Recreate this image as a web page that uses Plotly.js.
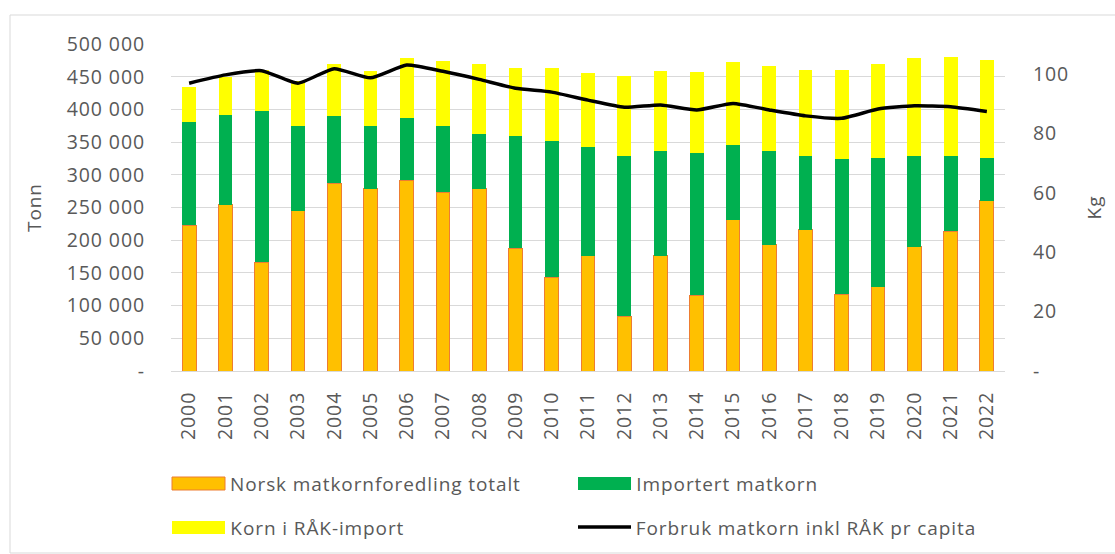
<!DOCTYPE html>
<html>
<head>
<meta charset="utf-8">
<script src="https://cdn.plot.ly/plotly-3.0.1.min.js"></script>
<style>
  html, body { margin: 0; padding: 0; background: #ffffff; }
  #chart { width: 1115px; height: 554px; }
  #chart text { letter-spacing: 0.9px; }
</style>
</head>
<body>
<div id="chart"></div>
<script>
// ---- Data ----
const years = ["2000","2001","2002","2003","2004","2005","2006","2007","2008","2009","2010","2011",
               "2012","2013","2014","2015","2016","2017","2018","2019","2020","2021","2022"];
// Tonn
const norskMatkorn = [223000, 254000, 166000, 245000, 287000, 279000, 292000, 273000, 279000, 188000, 143000, 176000,
                      84000, 176000, 116000, 231000, 193000, 216000, 117000, 129000, 190000, 214000, 260000];
const importertMatkorn = [158000, 137000, 232000, 129000, 103000, 95000, 95000, 102000, 84000, 172000, 209000, 166000,
                          245000, 160000, 217000, 114000, 144000, 112000, 207000, 196000, 138000, 114000, 65000];
const kornRakImport = [54000, 59000, 62000, 70000, 79000, 84000, 91000, 99000, 106000, 104000, 112000, 114000,
                       122000, 123000, 124000, 128000, 130000, 132000, 136000, 145000, 151000, 152000, 151000];
// Kg per capita
const forbrukKg = [96.9, 99.7, 101.1, 96.9, 101.8, 98.7, 103.0, 100.9, 98.2, 95.2, 93.9, 91.2,
                   88.8, 89.6, 87.9, 90.1, 87.9, 85.9, 85.1, 88.2, 89.3, 89.0, 87.4];

const leftTickVals = [0, 50000, 100000, 150000, 200000, 250000, 300000, 350000, 400000, 450000, 500000];
const leftTickText = ["-", "50 000", "100 000", "150 000", "200 000", "250 000", "300 000", "350 000", "400 000", "450 000", "500 000"];
const rightTickVals = [0, 20, 40, 60, 80, 100];
const rightTickText = ["-", "20", "40", "60", "80", "100"];

const seriesNames = ["Norsk matkornforedling totalt", "Importert matkorn", "Korn i RÅK-import", "Forbruk matkorn inkl RÅK pr capita"];

// ---- Styling ----
const FONT = "'Open Sans', 'Noto Sans', sans-serif";
const TXT = "#595959";
const GRID = "#D9D9D9";
const LS = 0.9; // letter-spacing set in CSS
const cOrange = "#FFC000", cOrangeLine = "#ED7D31", cGreen = "#00B050", cYellow = "#FFFF00";

// plot area in pixels
const W = 1115, H = 554;
const PL = 171, PR = 1005, PT = 44, PB = 371;
const px = x => (x - PL) / (PR - PL);
const py = y => (PB - y) / (PB - PT);

const traces = [
  { type: "bar", name: seriesNames[0], x: years, y: norskMatkorn,
    marker: { color: cOrange, line: { color: cOrangeLine, width: 1 } }, yaxis: "y", showlegend: false },
  { type: "bar", name: seriesNames[1], x: years, y: importertMatkorn,
    marker: { color: cGreen, line: { width: 0 } }, yaxis: "y", showlegend: false },
  { type: "bar", name: seriesNames[2], x: years, y: kornRakImport,
    marker: { color: cYellow, line: { width: 0 } }, yaxis: "y", showlegend: false },
  { type: "scatter", mode: "lines", name: seriesNames[3], x: years, y: forbrukKg,
    line: { color: "#000000", width: 3.5, shape: "spline", smoothing: 0.5 }, yaxis: "y2", showlegend: false }
];

// manual legend (two rows x two columns, as in the reference)
const shapes = [
  { type: "rect", xref: "paper", yref: "paper", x0: px(10), x1: px(1125), y0: py(553), y1: py(15),
    line: { color: GRID, width: 1 }, fillcolor: "rgba(0,0,0,0)", layer: "below" },
  { type: "rect", xref: "paper", yref: "paper", x0: px(172), x1: px(225), y0: py(490), y1: py(477),
    fillcolor: cOrange, line: { color: cOrangeLine, width: 1 } },
  { type: "rect", xref: "paper", yref: "paper", x0: px(578), x1: px(631), y0: py(490), y1: py(477),
    fillcolor: cGreen, line: { width: 0 } },
  { type: "rect", xref: "paper", yref: "paper", x0: px(172), x1: px(225), y0: py(534), y1: py(521),
    fillcolor: cYellow, line: { width: 0 } },
  { type: "line", xref: "paper", yref: "paper", x0: px(578), x1: px(631), y0: py(527), y1: py(527),
    line: { color: "#000000", width: 3.5 } }
];
const legFont = { family: FONT, size: 19, color: TXT };
// annotation text is centred in a box measured without letter-spacing: compensate half the extra width
const legX = (x, s) => px(x + LS * s.length / 2);
const annotations = [
  { xref: "paper", yref: "paper", x: legX(228, seriesNames[0]), y: py(484), text: seriesNames[0], showarrow: false, xanchor: "left", yanchor: "middle", font: legFont },
  { xref: "paper", yref: "paper", x: legX(634, seriesNames[1]), y: py(484), text: seriesNames[1], showarrow: false, xanchor: "left", yanchor: "middle", font: legFont },
  { xref: "paper", yref: "paper", x: legX(228, seriesNames[2]), y: py(528), text: seriesNames[2], showarrow: false, xanchor: "left", yanchor: "middle", font: legFont },
  { xref: "paper", yref: "paper", x: legX(634, seriesNames[3]), y: py(528), text: seriesNames[3], showarrow: false, xanchor: "left", yanchor: "middle", font: legFont }
];

const tickFont = { family: FONT, size: 19.5, color: TXT };
const layout = {
  width: W, height: H,
  margin: { l: PL, r: W - PR, t: PT, b: H - PB, pad: 0 },
  paper_bgcolor: "#ffffff", plot_bgcolor: "#ffffff",
  barmode: "stack", bargap: 0.62,
  showlegend: false,
  font: { family: FONT, size: 19, color: TXT },
  xaxis: {
    type: "category", tickangle: -90, showgrid: false, zeroline: false,
    showline: true, linecolor: GRID, linewidth: 1, ticks: "", ticklabelstandoff: 12,
    tickfont: tickFont
  },
  yaxis: {
    range: [0, 500000], tickvals: leftTickVals, ticktext: leftTickText,
    showgrid: true, gridcolor: GRID, gridwidth: 1, zeroline: false, showline: false,
    ticks: "", ticklabelstandoff: 25,
    tickfont: tickFont,
    title: { text: "Tonn", font: { family: FONT, size: 19, color: TXT }, standoff: 26 }
  },
  yaxis2: {
    overlaying: "y", side: "right", range: [0, 110.1],
    tickvals: rightTickVals, ticktext: rightTickText,
    showgrid: false, zeroline: false, showline: false, ticks: "", ticklabelstandoff: 27,
    tickfont: tickFont,
    title: { text: "Kg", font: { family: FONT, size: 19, color: TXT }, standoff: 22 }
  },
  shapes: shapes,
  annotations: annotations
};

Plotly.newPlot("chart", traces, layout, { displayModeBar: false, staticPlot: true });
</script>
</body>
</html>
